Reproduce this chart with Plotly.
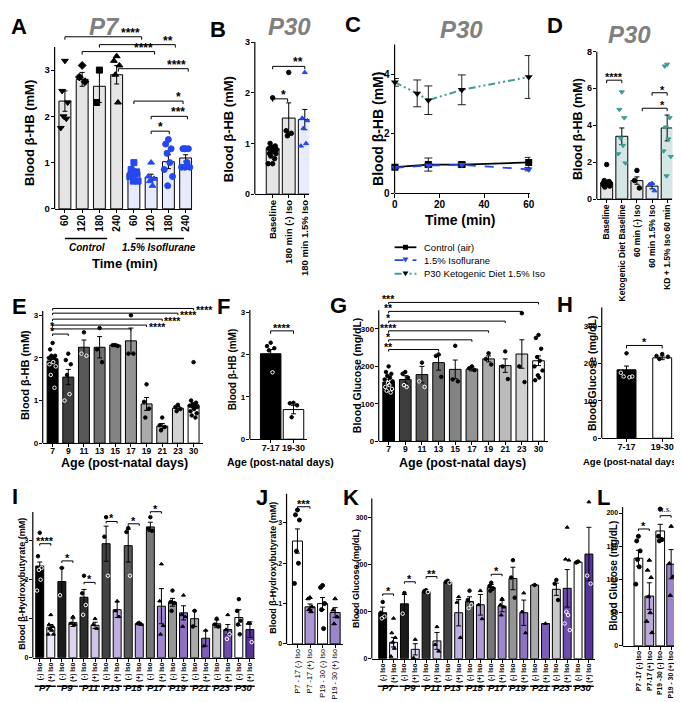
import plotly.graph_objects as go

W, H = 682, 702
FONT = "Liberation Sans, Arial, sans-serif"
TITLE_GRAY = "#808080"

# ======================= DATA =======================
# Panel A (P7, time course)
A_ticks = ["60", "120", "180", "240", "60", "120", "180", "240"]
A_mean = [2.33, 2.8, 2.65, 2.9, 0.8, 0.68, 1.02, 1.1]
A_sem = [0.22, 0.15, 0.35, 0.2, 0.06, 0.07, 0.15, 0.07]
A_points = [
    [3.2, 2.55, 2.3, 2.0, 1.95, 1.75],
    [3.1, 2.85, 2.75],
    [3.0, 2.3],
    [3.3, 3.2, 3.1, 2.9, 2.3],
    [1.0, 0.85, 0.8, 0.75, 0.75, 0.7, 0.6, 0.6],
    [1.0, 0.7, 0.65, 0.6, 0.5],
    [1.5, 1.4, 1.3, 1.2, 1.0, 0.85, 0.7, 0.5],
    [1.3, 1.3, 1.3, 1.3, 1.0, 0.9, 0.9, 0.9],
]
A_groups = ["Control", "1.5% Isoflurane"]
A_sig = [(0, 4.45, 3.72, "****"), (2, 6.4, 3.55, "**"), (1, 5.2, 3.4, "****"),
         (3.1, 7.15, 3.03, "****"), (4, 6.85, 2.33, "*"), (5, 7.1, 2.0, "***"), (5, 6.05, 1.68, "*")]

# Panel B (P30)
B_ticks = ["Baseline", "180 min (-) Iso", "180 min 1.5% Iso"]
B_mean = [0.9, 1.5, 1.47]
B_sem = [0.03, 0.3, 0.2]
B_points = [
    [1.9, 1.0, 0.95, 0.93, 0.9, 0.9, 0.88, 0.85, 0.85, 0.8, 0.8, 0.75, 0.7, 0.6, 0.6],
    [2.4, 1.25, 1.2, 1.15],
    [2.4, 1.5, 1.45, 1.3, 1.0, 0.95],
]
B_sig = [(0, 2, 2.52, "**"), (0, 0.93, 1.88, "*")]

# Panel C (P30 time course)
C_time_air = [0, 15, 30, 60]
C_air = [0.87, 0.96, 0.96, 1.03]
C_air_sem = [0.04, 0.22, 0.08, 0.17]
C_time_iso = [0, 15, 30, 60]
C_iso = [0.85, 0.93, 0.95, 0.8]
C_iso_sem = [0.03, 0.05, 0.05, 0.05]
C_time_kd = [0, 10, 15, 30, 60]
C_kd = [3.72, 3.35, 3.12, 3.47, 3.9]
C_kd_sem = [0.13, 0.45, 0.48, 0.5, 0.72]
C_names = ["Control (air)", "1.5% Isoflurane", "P30 Ketogenic Diet 1.5% Iso"]

# Panel D (P30 ketogenic)
D_ticks = ["Baseline", "Ketogenic Diet Baseline", "60 min (-) Iso", "60 min 1.5% Iso", "KD + 1.5% Iso 60 min"]
D_mean = [0.88, 3.4, 1.0, 0.7, 3.85]
D_sem = [0.05, 0.45, 0.2, 0.15, 0.7]
D_points = [
    [1.87, 1.0, 0.95, 0.9, 0.9, 0.85, 0.85, 0.8, 0.8, 0.75, 0.7, 0.65],
    [5.8, 4.85, 4.4, 3.3, 2.9, 2.45, 1.95],
    [1.55, 1.0, 0.6],
    [0.85, 0.8, 0.45],
    [7.3, 7.2, 4.4, 3.9, 3.25, 2.6, 2.3, 1.25],
]
D_sig = [(0, 1, 6.44, "****"), (3, 4, 5.76, "*"), (2.35, 4, 4.92, "*")]

# Panel E (age, BHB)
E_ticks = ["7", "9", "11", "13", "15", "17", "19", "21", "23", "30"]
E_mean = [1.93, 1.55, 2.25, 2.25, 2.3, 2.4, 0.92, 0.4, 0.82, 0.9]
E_sem = [0.05, 0.18, 0.17, 0.25, 0.02, 0.3, 0.15, 0.06, 0.04, 0.05]
E_points = [
    [2.35, 2.2, 2.05, 2.05, 2.0, 2.0, 1.95, 1.95, 1.9, 1.85, 1.8, 1.6, 1.3],
    [2.1, 1.95, 1.85, 1.6, 1.15, 1.0],
    [2.6, 2.1, 2.05],
    [2.7, 2.2, 1.9],
    [2.3, 2.3, 2.28],
    [3.0, 2.1, 2.1],
    [1.38, 0.97, 0.81, 0.6],
    [0.6, 0.42, 0.38, 0.3],
    [0.9, 0.85, 0.8, 0.75],
    [1.9, 1.0, 0.95, 0.9, 0.9, 0.88, 0.85, 0.85, 0.8, 0.75, 0.7, 0.65, 0.6],
]
E_sig = [(0, 9, 3.16, "****", "o"), (0, 8, 3.05, "****", "o"), (0, 7, 2.91, "****", "o"),
         (0, 6, 2.77, "****", "o"), (0, 5, 2.68, "*", "l"), (0, 1, 2.56, "*", "l")]

# Panel F
F_ticks = ["7-17", "19-30"]
F_mean = [2.02, 0.7]
F_sem = [0.1, 0.1]
F_points = [[2.28, 2.2, 2.15, 2.1, 1.58], [0.86, 0.85, 0.8, 0.52]]
F_sig = [(0, 1, 2.56, "****")]

# Panel G (age, glucose)
G_mean = [158, 165, 178, 210, 192, 193, 220, 202, 233, 215]
G_sem = [8, 10, 22, 20, 25, 5, 8, 18, 38, 13]
G_points = [
    [200, 185, 180, 175, 170, 165, 160, 155, 150, 145, 140, 135, 130],
    [185, 180, 170, 150, 145],
    [210, 160, 145],
    [232, 228, 172],
    [255, 165, 160],
    [200, 195, 190],
    [235, 220, 205],
    [240, 200, 166],
    [342, 200, 158],
    [284, 276, 247, 225, 215, 200, 189, 176, 170, 163],
]
G_sig = [(0, 9, 371, "***"), (0, 8, 347, "**"), (0, 7, 321, "*"), (0, 6, 295, "****"),
         (0, 5, 271, "*"), (0, 3, 245, "**")]

# Panel H
H_mean = [183, 215]
H_sem = [10, 5]
H_points = [[227, 175, 165, 165, 163], [225, 220, 218, 212]]
H_sig = [(0, 1, 248, "*")]

# Panel I (BHB +/- iso by age)
IK_groups = ["P7", "P9", "P11", "P13", "P15", "P17", "P19", "P21", "P23", "P30"]
IK_ticks = ["(-) Iso", "(+) Iso"]
I_neg_mean = [2.35, 1.95, 1.55, 2.92, 2.87, 3.35, 1.42, 1.0, 0.87, 1.03]
I_neg_sem = [0.1, 0.35, 0.2, 0.45, 0.42, 0.12, 0.1, 0.2, 0.1, 0.2]
I_pos_mean = [0.78, 0.9, 0.83, 1.23, 0.87, 1.32, 1.15, 0.5, 0.72, 0.72]
I_pos_sem = [0.07, 0.1, 0.08, 0.2, 0.03, 0.45, 0.18, 0.2, 0.13, 0.2]
I_neg_points = [
    [3.2, 2.6, 2.3, 2.25, 2.0, 1.72], [2.3, 1.6], [2.1, 1.65, 1.35, 1.1], [3.6, 3.1, 2.1],
    [3.32, 3.22, 2.1], [3.6, 3.3, 3.25], [1.72, 1.43, 1.4, 1.2], [1.2, 0.8], [1.0, 0.85, 0.8],
    [1.5, 1.2, 0.95, 0.85, 0.6],
]
I_pos_points = [
    [1.1, 0.85, 0.8, 0.75, 0.7, 0.6, 0.6], [1.05, 0.88, 0.85], [1.0, 0.85, 0.75], [1.45, 1.2, 1.05],
    [0.9, 0.88, 0.85], [2.4, 1.45, 0.82, 0.6], [1.6, 1.1, 1.05, 0.8], [0.7, 0.3],
    [1.1, 0.72, 0.6, 0.48], [0.88, 0.88, 0.4],
]
I_sig = [(0, 1, 2.92, "****"), (2, 3, 2.48, "*"), (4, 5, 1.93, "*"), (6, 7, 3.49, "*"),
         (8, 9, 3.43, "*"), (10, 11, 3.74, "*")]

# Panel J
J_ticks = ["P7 - 17 (-) Iso", "P7 -17 (+) Iso", "P19 - 30 (-) Iso", "P19 - 30 (+) Iso"]
J_mean = [2.55, 0.92, 1.0, 0.78]
J_sem = [0.3, 0.07, 0.15, 0.12]
J_points = [[3.32, 3.2, 3.07, 2.3, 2.0, 1.5], [1.15, 1.12, 0.92, 0.85, 0.8],
            [1.45, 1.4, 1.0, 0.85, 0.38], [1.12, 0.84, 0.67, 0.5]]
J_sig = [(0, 1, 3.4, "***")]

# Panel K (glucose +/- iso by age)
K_neg_mean = [98, 117, 143, 163, 122, 152, 171, 157, 148, 206]
K_neg_sem = [12, 20, 3, 2, 10, 6, 24, 1, 13, 1]
K_pos_mean = [35, 20, 38, 98, 115, 112, 98, 75, 150, 223]
K_pos_sem = [10, 12, 18, 28, 22, 12, 27, 0, 40, 57]
K_neg_points = [
    [121, 98, 90, 86], [140, 96], [146, 144, 142], [166, 164, 162], [145, 125, 115, 108],
    [162, 155, 150, 145], [210, 173, 130], [157], [168, 160, 125], [207, 205],
]
K_pos_points = [
    [86, 55, 45, 35, 22, 5], [41, 2], [68, 30, 16], [132, 120, 45], [145, 115, 85],
    [128, 115, 110, 93], [140, 100, 55], [75], [280, 212, 210, 100, 93, 75, 61], [334, 177, 160],
]
K_sig = [(0, 1, 138, "*"), (2, 3, 164, "*"), (4, 5, 175, "**"), (10, 11, 180, "*")]

# Panel L
L_ticks = ["P7 -17 (-) Iso", "P7-17 (+) Iso", "P19 -30 (-) Iso", "P19 - 30 (+) Iso"]
L_mean = [132, 75, 173, 123]
L_sem = [12, 20, 10, 22]
L_points = [[165, 158, 143, 130, 119, 93], [129, 114, 103, 74, 50, 37, 20],
            [206, 165, 160, 158], [180, 124, 104, 76]]
L_sig = [(0, 1, 176, "*"), (2, 3, 196, "n.s.")]

# ======================= STYLES =======================
A_colors = ["#e5e5e5"] * 4 + ["#e8ebfb"] * 4
A_symbols = ["triangle-down", "diamond", "square", "triangle-up", "square", "triangle-up", "circle", "circle"]
A_pcolors = ["black"] * 4 + ["#2448f0"] * 4
B_colors = ["#e5e5e5", "#e5e5e5", "#e8ebfb"]
B_symbols = ["circle", "circle", "triangle-up"]
B_pcolors = ["black", "black", "#2448f0"]
TEAL = "#3f9c97"
D_colors = ["#e5e5e5", "#d4e7e5", "#e5e5e5", "#e3e8f8", "#d4e7e5"]
D_symbols = ["circle", "triangle-down", "circle", "triangle-up", "triangle-down"]
D_pcolors = ["black", TEAL, "black", "#2448f0", TEAL]
AGE_GRAYS = ["#000000", "#3e3e3e", "#575757", "#6f6f6f", "#838383", "#949494", "#ababab", "#bcbcbc", "#d2d2d2", "#ffffff"]
NEG_GRAYS = ["#000000", "#1c1c1c", "#2d2d2d", "#434343", "#595959", "#767676", "#959595", "#a9a9a9", "#c9c9c9", "#ffffff"]
POS_PURPLES = ["#ede8f6", "#ddd3ef", "#cfc3e8", "#bfaee0", "#ae9ad6", "#9e87cc", "#8d72c2", "#7d5fb8", "#6d4dae", "#57339c"]
J_colors = ["#ffffff", "#ab97d4", "#ffffff", "#9b85cc"]
L_colors = ["#ffffff", "#b9a8dc", "#ffffff", "#9b85cc"]

fig = go.Figure()


def names(n):
    s = "" if n == 1 else str(n)
    return "x" + s, "y" + s, "xaxis" + s, "yaxis" + s


def fx(x):
    return x / W


def fy(y):
    return 1 - y / H


def font(size, bold=True, italic=False, color="black", family=FONT):
    d = dict(size=size, family=family, color=color, weight="bold" if bold else "normal")
    if italic:
        d["style"] = "italic"
    return d


PPU = {}


def setup(n, xl, xr, c0, dx, y0, ppu, ymax, ytop, yticks, ysize, xvals, xtext, xsize=9,
          xangle=-90, xbold=True, xstand=-2):
    xn, yn, xa, ya = names(n)
    PPU[n] = ppu
    fig.update_layout(**{
        xa: dict(domain=[fx(xl), fx(xr)], range=[(xl - c0) / dx, (xr - c0) / dx], anchor=yn,
                 showline=True, linecolor="black", linewidth=1.2, ticks="outside", ticklen=3,
                 tickwidth=1, tickcolor="black", tickmode="array", tickvals=list(xvals),
                 ticktext=list(xtext), tickangle=xangle, tickfont=font(xsize, xbold),
                 ticklabelstandoff=xstand, showgrid=False, zeroline=False),
        ya: dict(domain=[fy(y0), fy(y0 - ymax * ppu)], range=[0, ymax], anchor=xn, showline=False,
                 ticks="outside", ticklen=3, tickwidth=1, tickcolor="black", tickmode="array",
                 tickvals=yticks, ticktext=[str(v) for v in yticks], tickfont=font(ysize),
                 ticklabelstandoff=-1, showgrid=False, zeroline=False),
    })
    fig.add_shape(type="line", xref=xn + " domain", yref=yn, x0=0, x1=0, y0=0, y1=ytop,
                  line=dict(color="black", width=1.2))


def bars(n, means, sems, colors, width):
    xn, yn, _, _ = names(n)
    fig.add_trace(go.Bar(x=list(range(len(means))), y=means, width=width,
                         marker=dict(color=colors, line=dict(color="black", width=1)),
                         error_y=dict(type="data", array=sems, visible=True, color="black",
                                      thickness=1, width=2.5),
                         xaxis=xn, yaxis=yn, showlegend=False, hoverinfo="skip"))


def lum(c):
    c = c.lstrip("#")
    r, g, b = int(c[0:2], 16), int(c[2:4], 16), int(c[4:6], 16)
    return (0.299 * r + 0.587 * g + 0.114 * b) / 255


OFFS = [0.0, -0.16, 0.16, -0.08, 0.08, -0.24, 0.24, -0.04, 0.04, -0.2, 0.2, -0.12, 0.12, 0.0, -0.28]


def points(n, pts_list, means, bar_colors, symbols, pcolors, size, spread=1.0):
    xn, yn, _, _ = names(n)
    xs, ys, syms, cols = [], [], [], []
    for i, vals in enumerate(pts_list):
        for j, v in enumerate(vals):
            xs.append(i + OFFS[j % len(OFFS)] * spread)
            ys.append(v)
            if lum(bar_colors[i]) < 0.4 and v < means[i]:
                syms.append("circle-open")
                cols.append("white")
            else:
                syms.append(symbols[i])
                cols.append(pcolors[i])
    fig.add_trace(go.Scatter(x=xs, y=ys, mode="markers", cliponaxis=False,
                             marker=dict(symbol=syms, color=cols, size=size,
                                         line=dict(width=1, color=cols)),
                             xaxis=xn, yaxis=yn, showlegend=False, hoverinfo="skip"))


def bracket(n, x1, x2, y, txt, pos="c", size=11, drop=3, italic=False, family=FONT, bold=True):
    xn, yn, _, _ = names(n)
    d = drop / PPU[n]
    fig.add_shape(type="path", path=f"M {x1},{y - d} L {x1},{y} L {x2},{y} L {x2},{y - d}",
                  xref=xn, yref=yn, line=dict(color="black", width=1))
    yanc, ysh = "bottom", -5
    if pos == "c":
        ax, xanc = (x1 + x2) / 2, "center"
    elif pos == "r":
        ax, xanc = x2, "right"
    elif pos == "o":
        ax, xanc = x2, "left"
        yanc, ysh = "middle", -2
    else:
        ax, xanc = x1, "center"
    if txt == "n.s.":
        ysh = 0
    fig.add_annotation(x=ax, y=y, xref=xn, yref=yn, text=txt, showarrow=False, xanchor=xanc,
                       yanchor=yanc, yshift=ysh, font=font(size, bold, italic, family=family))


def text(x, y, s, size, bold=True, italic=False, color="black", angle=0, xanchor="center"):
    fig.add_annotation(x=fx(x), y=fy(y), xref="paper", yref="paper", text=s, showarrow=False,
                       textangle=angle, xanchor=xanchor, yanchor="middle",
                       font=font(size, bold, italic, color))


def interleave(a, b):
    out = []
    for u, v in zip(a, b):
        out += [u, v]
    return out


# ======================= PANEL A =======================
setup(1, 45, 184, 55.4, 17.4, 199, 47, 3.8, 3.5, [0, 1, 2, 3], 9.5, range(8), A_ticks, 10)
bars(1, A_mean, A_sem, A_colors, 0.69)
points(1, A_points, A_mean, A_colors, A_symbols, A_pcolors, 6)
for i, (a, b, y, s) in enumerate(A_sig):
    bracket(1, a, b, y, s, "c" if i == 6 else "r", 12)
for g, (lo, hi, cx) in zip(A_groups, [(0, 2.45, 1.3), (4.1, 6.9, 5.44)]):
    fig.add_shape(type="line", xref="x", yref="paper", x0=lo, x1=hi, y0=fy(229), y1=fy(229),
                  line=dict(color="black", width=1.5))
    fig.add_annotation(x=cx, y=fy(238), xref="x", yref="paper", text=g, showarrow=False,
                       font=font(10, True, True))
text(116, 254, "Time (min)", 13)
text(19, 122, "Blood β-HB (mM)", 13, angle=-90)

# ======================= PANEL B =======================
setup(2, 247, 302, 265, 16.2, 184, 51.5, 3.0, 3.0, [0, 1, 2, 3], 9, range(3), B_ticks, 9.5)
bars(2, B_mean, B_sem, B_colors, 0.8)
points(2, B_points, B_mean, B_colors, B_symbols, B_pcolors, 4.5)
for a, b, y, s in B_sig:
    bracket(2, a, b, y, s, "r", 12)
text(220, 118, "Blood β-HB (mM)", 13, angle=-90)

# ======================= PANEL C =======================
setup(3, 388, 525, 388.3, 2.25, 183, 30.25, 5.0, 5.0, [0, 2, 4], 10, [0, 20, 40, 60],
      ["0", "20", "40", "60"], 10, 0)
fig.update_layout(xaxis3=dict(ticklen=4))
c_styles = [
    (C_time_air, C_air, C_air_sem, dict(color="black", width=1.8), "square", "black"),
    (C_time_iso, C_iso, C_iso_sem, dict(color="#2446ee", width=1.8, dash="dash"), "triangle-down", "#2446ee"),
    (C_time_kd, C_kd, C_kd_sem, dict(color=TEAL, width=2, dash="7px,3px,2px,3px,2px,3px"), "triangle-down", "black"),
]
for (t, v, e, ln, sym, mc), nm in zip(c_styles, C_names):
    fig.add_trace(go.Scatter(x=t, y=v, mode="lines+markers", name=nm, line=ln, cliponaxis=False,
                             marker=dict(symbol=sym, size=7, color=mc),
                             error_y=dict(type="data", array=e, visible=True, color="#222222",
                                          thickness=1, width=4),
                             xaxis="x3", yaxis="y3", showlegend=False, hoverinfo="skip"))
text(455, 210, "Time (min)", 14)
text(371, 118, "Blood β-HB (mM)", 14, angle=-90)
# manual legend for panel C
for (t, v, e, ln, sym, mc), nm, yy in zip(c_styles, C_names, [238, 251, 265]):
    fig.add_shape(type="line", xref="paper", yref="paper", x0=fx(388), x1=fx(410), y0=fy(yy), y1=fy(yy),
                  line=ln)
    if sym == "square":
        fig.add_shape(type="rect", xref="paper", yref="paper", x0=fx(396.5), x1=fx(401.5),
                      y0=fy(yy + 2.5), y1=fy(yy - 2.5), fillcolor=mc, line=dict(width=0))
    else:
        fig.add_shape(type="path", xref="paper", yref="paper",
                      path=f"M {fx(396)},{fy(yy - 2.5)} L {fx(402)},{fy(yy - 2.5)} L {fx(399)},{fy(yy + 2.5)} Z",
                      fillcolor=mc, line=dict(width=0))
    text(416, yy, nm, 9.5, bold=False, xanchor="left")

# ======================= PANEL D =======================
setup(4, 592, 668, 602, 15.25, 189, 18.75, 8.0, 8.0, [0, 2, 4, 6, 8], 9, range(5), D_ticks, 8.5)
bars(4, D_mean, D_sem, D_colors, 0.79)
points(4, D_points, D_mean, D_colors, D_symbols, D_pcolors, 4.5)
bracket(4, *D_sig[0][:2], D_sig[0][2], D_sig[0][3], "c", 11)
bracket(4, *D_sig[1][:2], D_sig[1][2], D_sig[1][3], "r", 11)
bracket(4, *D_sig[2][:2], D_sig[2][2], D_sig[2][3], "r", 11)
text(573, 118, "Blood β-HB (mM)", 12.5, angle=-90)

# ======================= PANEL E =======================
setup(5, 33, 195, 43, 15.8, 437, 43.3, 3.42, 3.1, [0, 1, 2, 3], 8, range(10), E_ticks, 8.5, 0, xstand=-3)
bars(5, E_mean, E_sem, AGE_GRAYS, 0.7)
points(5, E_points, E_mean, AGE_GRAYS, ["circle"] * 10, ["black"] * 10, 3.5)
for a, b, y, s, p in E_sig:
    bracket(5, a, b, y, s, p, 10.5, drop=2)
text(116, 457, "Age (post-natal days)", 12.5)
text(15, 368, "Blood β-HB (mM)", 11, angle=-90)

# ======================= PANEL F =======================
setup(6, 242, 300, 263, 23, 433, 43, 3.05, 3.05, [0, 1, 2, 3], 8, range(2), F_ticks, 9, 0, xstand=-3)
bars(6, F_mean, F_sem, ["#000000", "#ffffff"], 0.9)
points(6, F_points, F_mean, ["#000000", "#ffffff"], ["circle", "circle"], ["black", "black"], 3.5)
for a, b, y, s in F_sig:
    bracket(6, a, b, y, s, "c", 11)
text(273, 456, "Age (post-natal days)", 10.5)
text(224, 362, "Blood β-HB (mM)", 10, angle=-90)

# ======================= PANEL G =======================
setup(7, 372, 543, 382, 16.8, 435, 0.38, 385, 350, [0, 100, 200, 300], 8, range(10), E_ticks, 8.5, 0, xstand=-3)
bars(7, G_mean, G_sem, AGE_GRAYS, 0.7)
points(7, G_points, G_mean, AGE_GRAYS, ["circle"] * 10, ["black"] * 10, 3.5)
for a, b, y, s in G_sig:
    bracket(7, a, b, y, s, "l", 10.5, drop=2)
text(457, 457, "Age (post-natal days)", 12.5)
text(350, 368, "Blood Glucose (mg/dL)", 10.5, angle=-90)

# ======================= PANEL H =======================
setup(8, 597, 670, 622, 36, 432, 0.38, 350, 350, [0, 100, 200, 300], 8, range(2), F_ticks, 9, 0, xstand=-3)
bars(8, H_mean, H_sem, ["#000000", "#ffffff"], 0.53)
points(8, H_points, H_mean, ["#000000", "#ffffff"], ["circle", "circle"], ["black", "black"], 3.5)
for a, b, y, s in H_sig:
    bracket(8, a, b, y, s, "c", 11)
text(627, 456, "Age (post-natal days)", 9.5)
text(587, 366, "Blood Glucose (mg/dL)", 10.5, angle=-90)

# ======================= PANEL I =======================
I_colors = interleave(NEG_GRAYS, POS_PURPLES)
I_mean = interleave(I_neg_mean, I_pos_mean)
setup(9, 23, 247, 30, 11.16, 655, 39.67, 3.76, 3.73, [0, 1, 2, 3], 7, range(20), IK_ticks * 10, 6.5)
bars(9, I_mean, interleave(I_neg_sem, I_pos_sem), I_colors, 0.72)
points(9, interleave(I_neg_points, I_pos_points), I_mean, I_colors,
       ["circle", "triangle-up"] * 10, ["black"] * 20, 3.5)
for a, b, y, s in I_sig:
    bracket(9, a, b, y, s, "c", 11, drop=2)
text(12, 580, "Blood β-Hydroxybutyrate (mM)", 9, angle=-90)

# ======================= PANEL J =======================
setup(10, 279, 336, 290, 12.67, 641, 41, 3.73, 3.73, [0, 1, 2, 3], 7, range(4), J_ticks, 7.3, -90, False)
bars(10, J_mean, J_sem, J_colors, 0.8)
points(10, J_points, J_mean, J_colors, ["circle", "triangle-up", "circle", "triangle-up"], ["black"] * 4, 4)
for a, b, y, s in J_sig:
    bracket(10, a, b, y, s, "c", 11, drop=2)
text(266, 564, "Blood β-Hydroxybutyrate (mM)", 9, angle=-90)

# ======================= PANEL K =======================
K_mean = interleave(K_neg_mean, K_pos_mean)
setup(11, 365, 590, 376, 10.95, 656, 0.4767, 342, 342, [0, 100, 200, 300], 7, range(20), IK_ticks * 10, 6.5)
bars(11, K_mean, interleave(K_neg_sem, K_pos_sem), I_colors, 0.73)
points(11, interleave(K_neg_points, K_pos_points), K_mean, I_colors,
       ["circle", "triangle-up"] * 10, ["black"] * 20, 3.5)
for a, b, y, s in K_sig:
    bracket(11, a, b, y, s, "c", 11, drop=2)
text(349, 574, "Blood Glucose (mg/dL)", 9, angle=-90)

# group labels for I and K
for n in (9, 11):
    xn = names(n)[0]
    for g, lab in enumerate(IK_groups):
        fig.add_shape(type="line", xref=xn, yref="paper", x0=2 * g - 0.45, x1=2 * g + 1.45,
                      y0=fy(684), y1=fy(684), line=dict(color="black", width=1.5))
        fig.add_annotation(x=2 * g + 0.5, y=fy(693), xref=xn, yref="paper", text=lab,
                           showarrow=False, font=font(9.5, True, True))

# ======================= PANEL L =======================
setup(12, 618, 672, 634, 11, 643, 0.675, 209, 209, [0, 50, 100, 150, 200], 7, range(4), L_ticks, 6.8)
bars(12, L_mean, L_sem, L_colors, 0.8)
points(12, L_points, L_mean, L_colors, ["circle", "triangle-up", "circle", "triangle-up"], ["black"] * 4, 4)
bracket(12, *L_sig[0][:2], L_sig[0][2], L_sig[0][3], "c", 11, drop=2)
bracket(12, *L_sig[1][:2], L_sig[1][2], L_sig[1][3], "c", 9, drop=2, italic=True,
        family="Liberation Serif, serif", bold=False)
text(608, 572, "Blood Glucose (mg/dL)", 10, angle=-90)

# ======================= LETTERS & TITLES =======================
for L, x, y in [("A", 9, 14), ("B", 210, 17), ("C", 346, 12), ("D", 550, 13), ("E", 10, 298),
                ("F", 215, 298), ("G", 331, 297), ("H", 560, 296), ("I", 5, 491), ("J", 254, 492),
                ("K", 344, 492), ("L", 599, 492)]:
    text(x, y, L, 22)
for s, x, y in [("P7", 95, 14), ("P30", 282, 14), ("P30", 456, 17), ("P30", 625, 22)]:
    text(x, y, s, 24, italic=True, color=TITLE_GRAY)

fig.update_layout(width=W, height=H, margin=dict(l=0, r=0, t=0, b=0), paper_bgcolor="white",
                  plot_bgcolor="white", showlegend=False, font=dict(family=FONT, color="black"))
fig.write_html("out.html")
